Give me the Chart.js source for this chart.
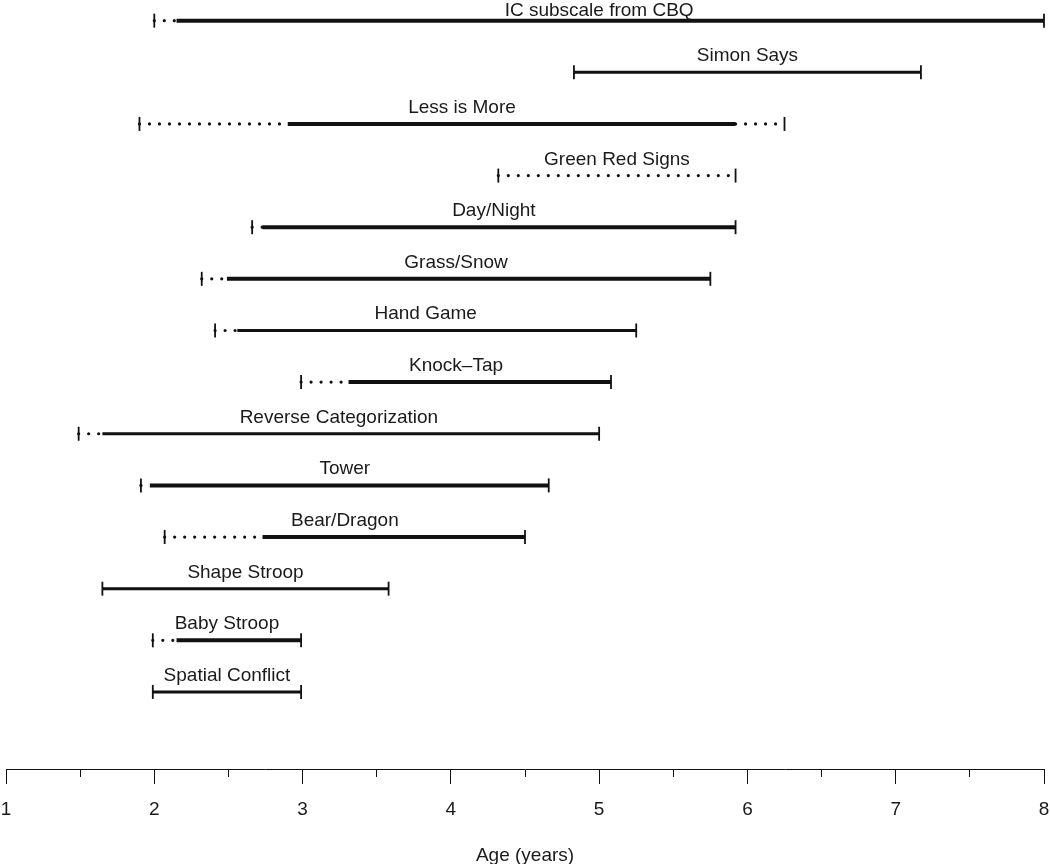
<!DOCTYPE html>
<html>
<head>
<meta charset="utf-8">
<script src="https://cdn.jsdelivr.net/npm/chart.js@4.4.1/dist/chart.umd.min.js"></script>
<style>
  html, body { margin: 0; padding: 0; background: #fff; }
  #wrap { width: 1050px; height: 864px; }
</style>
</head>
<body>
<div id="wrap"><canvas id="c" width="1050" height="864"></canvas></div>
<script>
// ---- DATA (ages in years) ----
const tasks = ['IC subscale from CBQ', 'Simon Says', 'Less is More', 'Green Red Signs', 'Day/Night',
  'Grass/Snow', 'Hand Game', 'Knock\u2013Tap', 'Reverse Categorization', 'Tower', 'Bear/Dragon',
  'Shape Stroop', 'Baby Stroop', 'Spatial Conflict'];
const rangeStart = [2.00, 4.83, 1.90, 4.32, 2.66, 2.32, 2.41, 2.99, 1.49, 1.91, 2.07, 1.65, 1.99, 1.99];
const solidStart = [2.15, 4.83, 2.90, null, 2.73, 2.49, 2.56, 3.31, 1.65, 1.97, 2.73, 1.65, 2.15, 1.99];
const solidEnd   = [8.00, 7.17, 5.92, null, 5.92, 5.75, 5.25, 5.08, 5.00, 4.66, 4.50, 3.58, 2.99, 2.99];
const rangeEnd   = [8.00, 7.17, 6.25, 5.92, 5.92, 5.75, 5.25, 5.08, 5.00, 4.66, 4.50, 3.58, 2.99, 2.99];
const xMin = 1, xMax = 8, xStep = 0.5;
const axisTitle = 'Age (years)';

// ---- STYLING ----
const heavyTasks = new Set(['IC subscale from CBQ', 'Less is More', 'Day/Night', 'Grass/Snow',
  'Knock\u2013Tap', 'Tower', 'Bear/Dragon', 'Baby Stroop']);
const ink = '#111';
const FONT = '"Liberation Sans", Arial, Helvetica, sans-serif';

const rowValue = i => tasks.length - i; // top row highest

const datasets = [];
tasks.forEach((t, i) => {
  const y = rowValue(i);
  const w = heavyTasks.has(t) ? 4 : 3;
  const dotted = (a, b) => datasets.push({
    data: [{x: a, y}, {x: b, y}], borderColor: ink, borderWidth: 3.2,
    borderDash: [0, 10], borderCapStyle: 'round', pointRadius: 0, pointHoverRadius: 0, clip: false
  });
  if (solidStart[i] === null) {
    dotted(rangeStart[i], rangeEnd[i]);
  } else {
    if (solidStart[i] > rangeStart[i]) dotted(rangeStart[i], solidStart[i]);
    datasets.push({
      data: [{x: solidStart[i], y}, {x: solidEnd[i], y}], borderColor: ink, borderWidth: w,
      borderCapStyle: 'butt', pointRadius: 0, pointHoverRadius: 0, clip: false
    });
    if (rangeEnd[i] > solidEnd[i]) dotted(solidEnd[i], rangeEnd[i]);
  }
});
// end caps
const caps = [];
tasks.forEach((t, i) => {
  caps.push({x: rangeStart[i], y: rowValue(i)});
  caps.push({x: rangeEnd[i], y: rowValue(i)});
});
datasets.push({
  data: caps, showLine: false, pointStyle: 'line', rotation: 90, pointRadius: 7, pointHoverRadius: 7,
  pointBorderWidth: 1.8, pointBorderColor: ink, pointBackgroundColor: ink, clip: false
});

const labelPlugin = {
  id: 'taskLabels',
  afterDatasetsDraw(chart) {
    const ctx = chart.ctx, xs = chart.scales.x, ys = chart.scales.y;
    ctx.save();
    ctx.fillStyle = '#1a1a1a';
    ctx.font = '19px ' + FONT;
    ctx.textAlign = 'center';
    ctx.textBaseline = 'alphabetic';
    tasks.forEach((t, i) => {
      const cx = xs.getPixelForValue((rangeStart[i] + rangeEnd[i]) / 2);
      const cy = Math.max(ys.getPixelForValue(rowValue(i)) - 11, 16);
      ctx.fillText(t, cx, cy);
    });
    ctx.restore();
  }
};

new Chart(document.getElementById('c'), {
  type: 'line',
  data: { datasets },
  plugins: [labelPlugin],
  options: {
    responsive: false,
    animation: false,
    devicePixelRatio: 1,
    events: [],
    layout: { autoPadding: false, padding: { left: 6, right: 6, top: 0, bottom: 0 } },
    plugins: { legend: { display: false }, tooltip: { enabled: false } },
    scales: {
      x: {
        type: 'linear', min: xMin, max: xMax,
        border: { display: true, color: ink, width: 1 },
        grid: {
          drawOnChartArea: false, drawTicks: true, tickLength: 29, tickColor: ink, tickWidth: 1,
          tickBorderDash: ctx => (ctx.tick && Number.isInteger(ctx.tick.value)) ? [14, 100] : [7, 100]
        },
        ticks: {
          stepSize: xStep, autoSkip: false, maxRotation: 0, padding: 0, color: '#1a1a1a',
          font: { family: FONT, size: 19 },
          callback: v => Number.isInteger(v) ? String(v) : ''
        },
        title: {
          display: true, text: axisTitle, color: '#1a1a1a',
          font: { family: FONT, size: 19 }, padding: { top: 23, bottom: -3 }
        }
      },
      y: {
        type: 'linear', display: false, min: -0.5, max: tasks.length + 0.4
      }
    }
  }
});
</script>
</body>
</html>
